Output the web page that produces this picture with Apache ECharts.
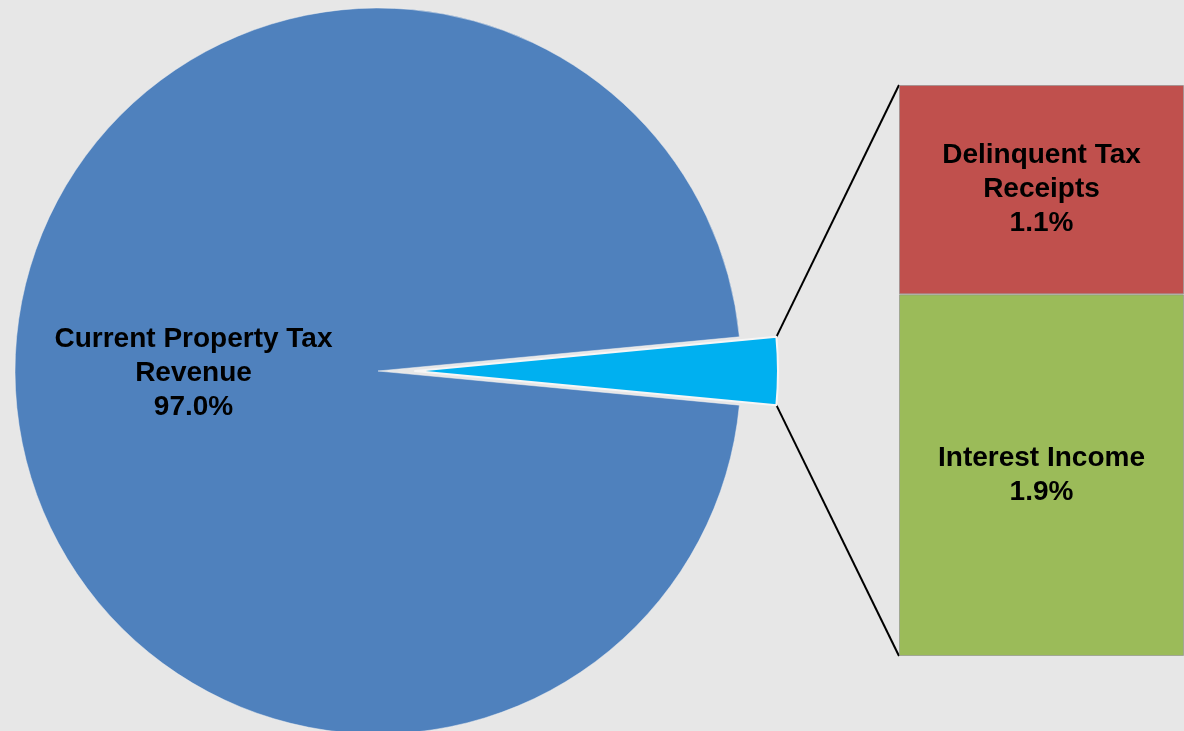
<!DOCTYPE html>
<html>
<head>
<meta charset="utf-8">
<script src="https://cdn.jsdelivr.net/npm/echarts@6/dist/echarts.min.js"></script>
<style>
  html, body { margin: 0; padding: 0; background: #e7e7e7; }
  #chart { width: 1184px; height: 731px; }
</style>
</head>
<body>
<div id="chart"></div>
<script>
// pie: main slice + "other" slice broken out into the bar
const pieNames = ['Other', 'Current Property Tax\nRevenue'];
const pieValues = [3.0, 97.0];
// bar of pie (bottom to top)
const barNames = ['Interest Income', 'Delinquent Tax\nReceipts'];
const barValues = [1.9, 1.1];

const pieCenter = [378, 371];
const pieRadius = 363;
const explode = 37;
const gridLeft = 899, gridTop = 85, gridBottom = 75;

const font = '"Liberation Sans", Arial, sans-serif';
const labelStyle = {
  color: '#000',
  fontFamily: font,
  fontWeight: 'bold',
  fontSize: 28,
  lineHeight: 34
};

const chart = echarts.init(document.getElementById('chart'));

const otherShare = pieValues[0] / (pieValues[0] + pieValues[1]);
const halfAngle = otherShare * 360 / 2;

const option = {
  backgroundColor: '#e7e7e7',
  animation: false,
  grid: { left: gridLeft, right: 0, top: gridTop, bottom: gridBottom },
  xAxis: { type: 'category', data: ['other'], show: false },
  yAxis: { type: 'value', min: 0, max: 3, show: false },
  series: [
    {
      type: 'pie',
      center: pieCenter,
      radius: pieRadius,
      startAngle: halfAngle,
      clockwise: true,
      selectedMode: 'single',
      selectedOffset: explode,
      silent: true,
      label: {
        show: true,
        position: 'inside',
        ...labelStyle,
        offset: [0, 2],
        formatter: p => p.dataIndex === 0 ? '' : p.name + '\n' + p.value.toFixed(1) + '%'
      },
      labelLine: { show: false },
      data: [
        {
          name: pieNames[0], value: pieValues[0], selected: true,
          itemStyle: { color: '#00b0f0', borderColor: '#f6f6f6', borderWidth: 2 }
        },
        {
          name: pieNames[1], value: pieValues[1],
          itemStyle: { color: '#4f81bd', borderColor: '#f0f0f0', borderWidth: 0.5 }
        }
      ]
    },
    {
      type: 'bar',
      name: barNames[0],
      stack: 'other',
      barWidth: '100%',
      data: [barValues[0]],
      itemStyle: { color: '#9bbb59', borderColor: 'rgba(140,140,140,0.6)', borderWidth: 1 },
      label: {
        show: true,
        position: 'inside',
        ...labelStyle,
        formatter: p => p.seriesName + '\n' + p.value.toFixed(1) + '%'
      }
    },
    {
      type: 'bar',
      name: barNames[1],
      stack: 'other',
      barWidth: '100%',
      data: [barValues[1]],
      itemStyle: { color: '#c0504d', borderColor: 'rgba(140,140,140,0.6)', borderWidth: 1 },
      label: {
        show: true,
        position: 'inside',
        ...labelStyle,
        formatter: p => p.seriesName + '\n' + p.value.toFixed(1) + '%'
      }
    }
  ]
};

chart.setOption(option);

// connector lines from the exploded slice corners to the bar corners
const rad = halfAngle * Math.PI / 180;
const sliceX = pieCenter[0] + explode + pieRadius * Math.cos(rad);
const sliceTopY = pieCenter[1] - pieRadius * Math.sin(rad);
const sliceBotY = pieCenter[1] + pieRadius * Math.sin(rad);
const barTopY = chart.convertToPixel({ yAxisIndex: 0 }, barValues[0] + barValues[1]);
const barBotY = chart.convertToPixel({ yAxisIndex: 0 }, 0);

chart.setOption({
  graphic: [
    {
      type: 'polyline',
      shape: { points: [[sliceX, sliceTopY], [gridLeft, barTopY]] },
      style: { stroke: '#000', lineWidth: 2, fill: null }
    },
    {
      type: 'polyline',
      shape: { points: [[sliceX, sliceBotY], [gridLeft, barBotY]] },
      style: { stroke: '#000', lineWidth: 2, fill: null }
    }
  ]
});

window.addEventListener('resize', () => chart.resize());
</script>
</body>
</html>
